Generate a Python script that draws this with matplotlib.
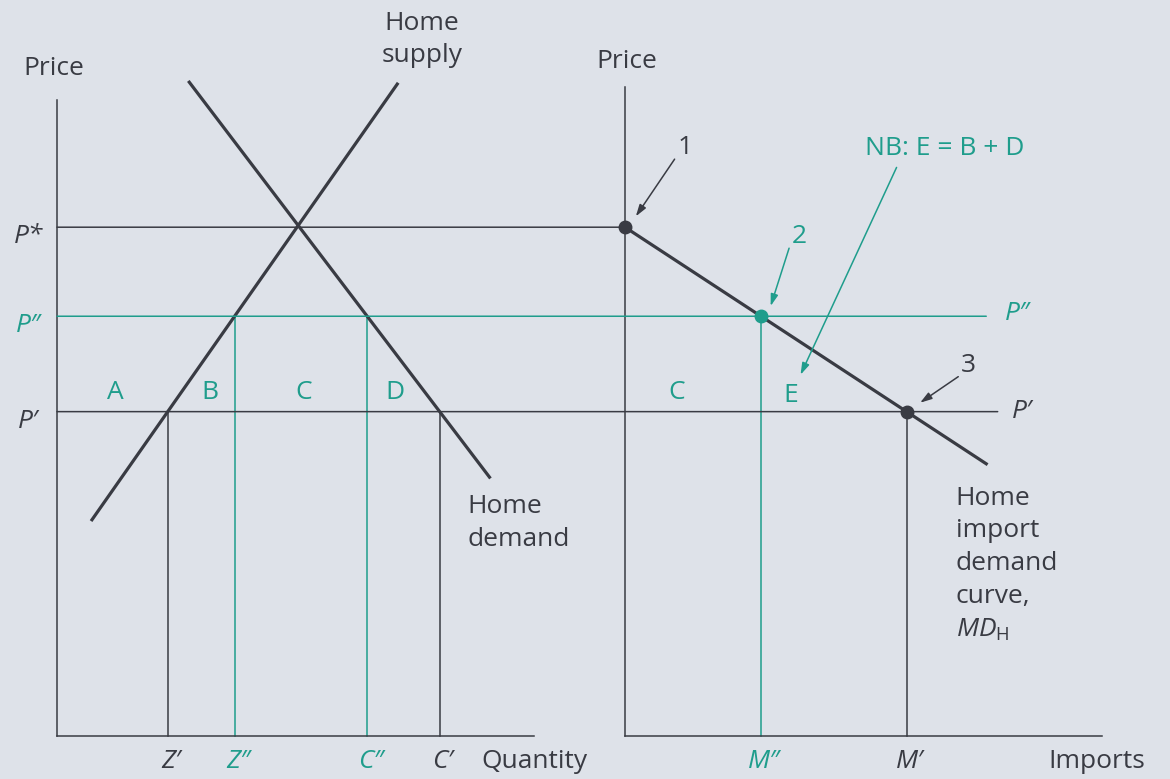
import matplotlib.pyplot as plt
from matplotlib.patches import ConnectionPatch

plt.rcParams["font.family"] = ["Open Sans", "DejaVu Sans"]
plt.rcParams["mathtext.fontset"] = "custom"
plt.rcParams["mathtext.it"] = "Open Sans:italic"
plt.rcParams["mathtext.rm"] = "Open Sans"

# price levels P*, P'', P'
prices = [80, 66, 51]
price_labels = ["P*", "P\u2033", "P\u2032"]

# home production and consumption at P' and P''
z_d, z_dd, c_dd, c_d = 17.4, 28.0, 48.8, 60.2
quantity_labels = ["Z\u2032", "Z\u2033", "C\u2033", "C\u2032"]

# imports at P'' and P'
m_dd, m_d = 21.4, 44.3
import_labels = ["M\u2033", "M\u2032"]

# end points of the curves (quantity, price)
supply_q, supply_p = [5.5, 53.5], [34, 102.5]
demand_q, demand_p = [20.8, 68.0], [102.8, 40.7]
md_q, md_p = [0, 56.8], [80, 42.8]

INK = "#393b43"
TEAL = "#1f9d8c"
BG = "#dee2e9"
FS = 19
W, H = 1170, 779
UNIT = 6.36  # pixels per unit, same on both panels

fig = plt.figure(figsize=(W / 100, H / 100), dpi=100, facecolor=BG)


def panel(x0, top):
    ax = fig.add_axes([x0 / W, 43 / H, 75 * UNIT / W, top * UNIT / H])
    ax.set_xlim(0, 75)
    ax.set_ylim(0, top)
    ax.set_facecolor("none")
    ax.set_xticks([])
    ax.set_yticks([])
    for s in ["top", "right"]:
        ax.spines[s].set_visible(False)
    for s in ["left", "bottom"]:
        ax.spines[s].set_color(INK)
        ax.spines[s].set_linewidth(1.1)
    return ax


ax1 = panel(57, 100)
ax2 = panel(625, 102)

# price lines run from the left axis across into the import panel
for p, end, col in zip(prices, [0, 56.8, 58.6], [INK, TEAL, INK]):
    fig.add_artist(ConnectionPatch(xyA=(0, p), coordsA=ax1.transData,
                                   xyB=(end, p), coordsB=ax2.transData,
                                   color=col, lw=1.1))

# home market
thin = dict(lw=1.1, clip_on=False)
ax1.plot([z_d, z_d], [0, prices[2]], color=INK, **thin)
ax1.plot([c_d, c_d], [0, prices[2]], color=INK, **thin)
ax1.plot([z_dd, z_dd], [0, prices[1]], color=TEAL, **thin)
ax1.plot([c_dd, c_dd], [0, prices[1]], color=TEAL, **thin)
ax1.plot(supply_q, supply_p, color=INK, lw=2.3, clip_on=False)
ax1.plot(demand_q, demand_p, color=INK, lw=2.3, clip_on=False)

for q, lab, col in zip([z_d, z_dd, c_dd, c_d], quantity_labels,
                       [INK, TEAL, TEAL, INK]):
    ax1.text(q + 0.5, -2.0, lab, ha="center", va="top", fontsize=FS,
             color=col, style="italic")
for p, lab, col in zip(prices, price_labels, [INK, TEAL, INK]):
    ax1.text(-4.5, p - 1.5, lab, ha="center", va="center", fontsize=FS,
             color=col, style="italic")
for q, lab in zip([9.1, 24, 38.8, 53.2], ["A", "B", "C", "D"]):
    ax1.text(q, 54, lab, ha="center", va="center", fontsize=FS, color=TEAL)

ax1.text(-0.5, 105, "Price", ha="center", va="center", fontsize=FS, color=INK)
ax1.text(57.4, 109.5, "Home\nsupply", ha="center", va="center", fontsize=FS,
         color=INK, linespacing=1.4)
ax1.text(64.5, 33.5, "Home\ndemand", ha="left", va="center", fontsize=FS,
         color=INK, linespacing=1.4)
ax1.text(66.8, -2.0, "Quantity", ha="left", va="top", fontsize=FS, color=INK)

# import market
ax2.plot([m_dd, m_dd], [0, prices[1]], color=TEAL, **thin)
ax2.plot([m_d, m_d], [0, prices[2]], color=INK, **thin)
ax2.plot(md_q, md_p, color=INK, lw=2.3, clip_on=False)
ax2.plot(0, prices[0], "o", ms=9, color=INK, clip_on=False, zorder=5)
ax2.plot(m_dd, prices[1], "o", ms=9, color=TEAL, clip_on=False, zorder=5)
ax2.plot(m_d, prices[2], "o", ms=9, color=INK, clip_on=False, zorder=5)

for q, lab, col in zip([m_dd, m_d], import_labels, [TEAL, INK]):
    ax2.text(q + 0.5, -2.0, lab, ha="center", va="top", fontsize=FS,
             color=col, style="italic")
ax2.text(59.8, 66.5, price_labels[1], ha="left", va="center", fontsize=FS,
         color=TEAL, style="italic")
ax2.text(60.9, 51, price_labels[2], ha="left", va="center", fontsize=FS,
         color=INK, style="italic")
ax2.text(8.2, 54, "C", ha="center", va="center", fontsize=FS, color=TEAL)
ax2.text(26.1, 53.5, "E", ha="center", va="center", fontsize=FS, color=TEAL)

arrow = "-|>,head_length=0.7,head_width=0.22"
for tip, tail, lab, col in [((1.7, 81.7), (7.8, 90.7), "1", INK),
                            ((22.9, 67.6), (25.8, 76.7), "2", TEAL),
                            ((46.4, 52.4), (52.4, 56.5), "3", INK),
                            ((27.6, 56.8), (42.7, 89.4), None, TEAL)]:
    ax2.annotate("", xy=tip, xytext=tail, annotation_clip=False,
                 arrowprops=dict(arrowstyle=arrow, color=col, lw=1.1,
                                 shrinkA=0, shrinkB=0))
    if lab:
        ax2.text(tail[0] + 1.6, tail[1] + 1.8, lab, ha="center",
                 va="center", fontsize=FS, color=col)

ax2.text(50.2, 92.4, "NB: E = B + D", ha="center", va="center", fontsize=FS,
         color=TEAL)
ax2.text(0.3, 106, "Price", ha="center", va="center", fontsize=FS, color=INK)
ax2.text(52, 27, "Home\nimport\ndemand\ncurve,\n$MD_{\\mathrm{H}}$",
         ha="left", va="center", fontsize=FS, color=INK, linespacing=1.4)
ax2.text(66.5, -2.0, "Imports", ha="left", va="top", fontsize=FS, color=INK)

fig.savefig("out.png", dpi=100, facecolor=BG)
